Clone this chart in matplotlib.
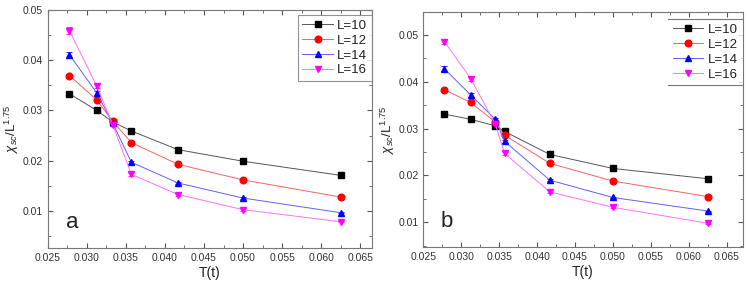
import matplotlib
matplotlib.use('Agg')
import matplotlib.pyplot as plt
from matplotlib.ticker import MultipleLocator

plt.rcParams['font.family'] = ['Liberation Sans', 'DejaVu Sans']
plt.rcParams['mathtext.fontset'] = 'custom'
plt.rcParams['mathtext.rm'] = 'Liberation Sans'
plt.rcParams['mathtext.it'] = 'Liberation Sans:italic'

# panel a data
t_a = [0.02778, 0.03125, 0.03333, 0.03571, 0.04167, 0.05, 0.0625]
a_L10 = [0.0333, 0.0300, 0.0277, 0.0259, 0.0222, 0.0199, 0.0171]
a_L12 = [0.0369, 0.0321, 0.0278, 0.0236, 0.0193, 0.0162, 0.0128]
a_L14 = [0.0410, 0.0335, 0.0274, 0.0197, 0.0156, 0.0126, 0.0097]
a_L16 = [0.0458, 0.0349, 0.0271, 0.0173, 0.0133, 0.0103, 0.0079]
a_err10 = [0.0002, 0.0002, 0.0002, 0.0002, 0.0002, 0.0001, 0.0001]
a_err12 = [0.0003, 0.0003, 0.0002, 0.0002, 0.0002, 0.0001, 0.0001]
a_err14 = [0.0006, 0.0004, 0.0003, 0.0003, 0.0002, 0.0002, 0.0001]
a_err16 = [0.0007, 0.0005, 0.0003, 0.0003, 0.0002, 0.0002, 0.0001]

# panel b data
t_b = [0.02778, 0.03125, 0.03448, 0.03571, 0.04167, 0.05, 0.0625]
b_L10 = [0.0331, 0.0320, 0.0306, 0.0294, 0.0245, 0.0215, 0.0193]
b_L12 = [0.0383, 0.0356, 0.0314, 0.0286, 0.0226, 0.0188, 0.0155]
b_L14 = [0.0428, 0.0372, 0.0320, 0.0273, 0.0190, 0.0153, 0.0124]
b_L16 = [0.0486, 0.0407, 0.0310, 0.0247, 0.0165, 0.0132, 0.0098]
b_err10 = [0.0002, 0.0002, 0.0002, 0.0002, 0.0002, 0.0001, 0.0001]
b_err12 = [0.0003, 0.0003, 0.0002, 0.0002, 0.0002, 0.0001, 0.0001]
b_err14 = [0.0005, 0.0004, 0.0003, 0.0003, 0.0002, 0.0002, 0.0001]
b_err16 = [0.0006, 0.0006, 0.0003, 0.0003, 0.0003, 0.0002, 0.0001]

labels = ['L=10', 'L=12', 'L=14', 'L=16']
colors = ['black', 'red', 'blue', 'magenta']
line_colors = ['#555555', '#ff6060', '#6060ff', '#ff70ff']
markers = ['s', 'o', '^', 'v']

fig = plt.figure(figsize=(7.47, 2.88), dpi=100)
ax1 = fig.add_axes([0.0639, 0.139, 0.434, 0.828])
ax2 = fig.add_axes([0.5667, 0.142, 0.4275, 0.816])


def draw(ax, t, series, errs, ylim, xmax, panel, leg_top):
    for y, e, c, lc, m, lab in zip(series, errs, colors, line_colors, markers, labels):
        ax.errorbar(t, y, yerr=e, fmt='none', ecolor=c, elinewidth=0.6,
                    capsize=2, capthick=0.6)
        ax.plot(t, y, '-', color=lc, lw=0.7, marker=m, ms=4.8,
                mfc=c, mec=c, label=lab)
    ax.set_xlim(0.025, xmax)
    ax.set_ylim(*ylim)
    ax.xaxis.set_major_locator(MultipleLocator(0.005))
    ax.xaxis.set_minor_locator(MultipleLocator(0.0025))
    ax.yaxis.set_major_locator(MultipleLocator(0.01))
    ax.yaxis.set_minor_locator(MultipleLocator(0.005))
    ax.xaxis.set_major_formatter(plt.FormatStrFormatter('%.3f'))
    ax.yaxis.set_major_formatter(plt.FormatStrFormatter('%.2f'))
    ax.tick_params(which='both', direction='in', top=True, right=True,
                   labelsize=7.5, colors='#555555', labelcolor='#333333')
    ax.tick_params(which='major', length=3.5)
    ax.tick_params(which='minor', length=2)
    for s in ax.spines.values():
        s.set_color('#777777')
        s.set_linewidth(0.8)
    ax.set_xlabel('T(t)', fontsize=10, color='#222222', labelpad=2)
    ax.set_ylabel(r'$\chi_{sc}/\mathrm{L}^{1.75}$', fontsize=9.5,
                  color='#222222', labelpad=1)
    ax.text(0.055, 0.085, panel, transform=ax.transAxes, fontsize=16,
            color='#222222')
    leg = ax.legend(loc='upper right', bbox_to_anchor=(1.0, leg_top),
                    fontsize=9.5, handlelength=2.3,
                    handletextpad=0.35, labelspacing=0.2, borderpad=0.35,
                    fancybox=False, borderaxespad=0.0, numpoints=1)
    leg.get_frame().set_edgecolor('#777777')
    leg.get_frame().set_linewidth(0.8)
    for txt in leg.get_texts():
        txt.set_color('#222222')
    return leg


draw(ax1, t_a, [a_L10, a_L12, a_L14, a_L16],
     [a_err10, a_err12, a_err14, a_err16], (0.0027, 0.05), 0.0665, 'a', 0.977)
leg_b = draw(ax2, t_b, [b_L10, b_L12, b_L14, b_L16],
             [b_err10, b_err12, b_err14, b_err16], (0.0047, 0.0549), 0.0671,
             'b', 0.97)

# panel b legend shows only its top and bottom rules
leg_b.get_frame().set_edgecolor('none')
fig.canvas.draw()
bb = leg_b.get_window_extent().transformed(fig.transFigure.inverted())
for yy in (bb.y0, bb.y1):
    fig.add_artist(plt.Line2D([bb.x0, bb.x1], [yy, yy], color='#777777',
                              lw=0.8, transform=fig.transFigure))

fig.savefig('out.png', dpi=100)
